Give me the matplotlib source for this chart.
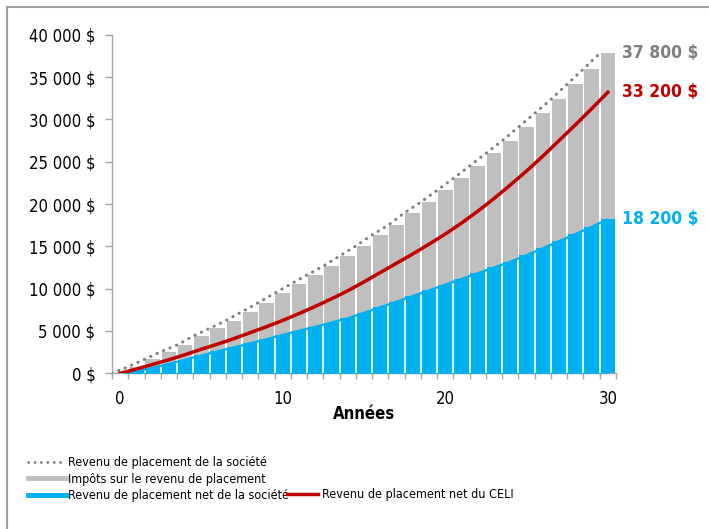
import numpy as np
import matplotlib.pyplot as plt
from matplotlib.lines import Line2D
from matplotlib.patches import Rectangle
from matplotlib.ticker import FuncFormatter

plt.rcParams['font.family'] = ['DejaVu Sans']
plt.rcParams['font.stretch'] = 'condensed'

years = list(range(31))
# revenu de placement de la société (total des barres)
revenu_societe = [0, 780, 1650, 2550, 3340, 4400, 5310, 6220, 7280, 8340,
                  9450, 10550, 11610, 12670, 13860, 15040, 16340, 17520, 18970, 20230,
                  21620, 23030, 24490, 25990, 27470, 29090, 30710, 32360, 34150, 35950,
                  37800]
# revenu de placement net de la société
revenu_net_societe = [0, 200, 650, 1130, 1610, 2110, 2600, 3060, 3540, 4030,
                      4550, 5030, 5500, 6000, 6500, 7150, 7800, 8460, 9130, 9800,
                      10480, 11150, 11830, 12500, 13180, 13970, 14780, 15620, 16450, 17300,
                      18200]
# revenu de placement net du CELI
revenu_net_celi = [0, 500, 1050, 1600, 2200, 2850, 3450, 4100, 4800, 5500,
                   6250, 7050, 7900, 8800, 9750, 10800, 11900, 13000, 14100, 15250,
                   16450, 17750, 19150, 20650, 22250, 23900, 25650, 27500, 29350, 31250,
                   33200]

labels = ["Revenu de placement de la société",
          "Impôts sur le revenu de placement",
          "Revenu de placement net de la société",
          "Revenu de placement net du CELI"]

GRAY = "#BFBFBF"
BLUE = "#00B0F0"
RED = "#C00000"
DOT = "#808080"
AXIS = "#A6A6A6"

x = np.array(years)
total = np.array(revenu_societe, dtype=float)
net = np.array(revenu_net_societe, dtype=float)
celi = np.array(revenu_net_celi, dtype=float)
impots = total - net

fig = plt.figure(figsize=(7.09, 5.29), dpi=100)
ax = fig.add_axes([112 / 709, 1 - 373.3 / 529, 504 / 709, 338.6 / 529])

bar_w = 0.9
ax.bar(x, net, width=bar_w, color=BLUE, zorder=2)
ax.bar(x, impots, bottom=net, width=bar_w, color=GRAY, zorder=2)
ax.fill_between(x, 0, net, color=BLUE, lw=0, zorder=3)
# white gaps between the bars, also through the blue area
ax.vlines(x[:-1] + 0.5, 0, (net[:-1] + net[1:]) / 2, color="white", lw=1.2, zorder=4)
ax.plot(x, net, color=BLUE, lw=1.6, zorder=5, solid_capstyle="butt")
ax.plot(x - 0.5, total, color=DOT, lw=2.2, linestyle=(0, (0.1, 2.2)),
        dash_capstyle="round", zorder=5)
ax.plot(x, celi, color=RED, lw=2.5, zorder=6)

ax.set_xlim(-0.5, 30.5)
ax.set_ylim(0, 40000)
ax.set_xticks([0, 10, 20, 30])
ax.set_xticks(np.arange(-0.5, 31, 1), minor=True)
ax.set_yticks(np.arange(0, 40001, 5000))
ax.yaxis.set_major_formatter(FuncFormatter(lambda v, p: f"{int(v):,} $".replace(",", " ")))

for s in ["top", "right"]:
    ax.spines[s].set_visible(False)
for s in ["left", "bottom"]:
    ax.spines[s].set_color(AXIS)
    ax.spines[s].set_linewidth(1.0)

ax.tick_params(axis="x", which="major", length=0, pad=12, labelsize=12)
ax.tick_params(axis="x", which="minor", length=4, color=AXIS, width=1.0)
ax.tick_params(axis="y", length=5, color=AXIS, width=1.0, pad=7, labelsize=12)
ax.set_xlabel("Années", fontsize=12, fontweight="bold", labelpad=-2)

# end labels
ax.text(30.85, total[-1], "37 800 $", color="#7F7F7F", fontsize=12.5,
        fontweight="bold", va="center", ha="left", clip_on=False)
ax.text(30.85, celi[-1], "33 200 $", color=RED, fontsize=12.5,
        fontweight="bold", va="center", ha="left", clip_on=False)
ax.text(30.85, net[-1], "18 200 $", color=BLUE, fontsize=12.5,
        fontweight="bold", va="center", ha="left", clip_on=False)

# legend
h_dot = Line2D([], [], color=DOT, lw=2.0, linestyle=(0, (0.1, 2.2)), dash_capstyle="round")
h_gray = Line2D([], [], color=GRAY, lw=3.5)
h_blue = Line2D([], [], color=BLUE, lw=3.5)
h_red = Line2D([], [], color=RED, lw=2.5)

fig.legend([h_dot, h_gray, h_blue], labels[:3], loc="upper left",
           bbox_to_anchor=(28 / 709, 1 - 456 / 529), frameon=False, fontsize=9,
           borderpad=0, borderaxespad=0, labelspacing=0.3, handlelength=3.0,
           handletextpad=0.16)
fig.legend([h_red], labels[3:], loc="center left",
           bbox_to_anchor=(287 / 709, 1 - 494.5 / 529), frameon=False, fontsize=9,
           borderpad=0, borderaxespad=0, handlelength=2.5, handletextpad=0.3)

# outer frame
fig.patches.append(Rectangle((7 / 709, -0.1), 1.2, 1.1 - 7 / 529, transform=fig.transFigure,
                             fill=False, edgecolor="#A0A0A0", lw=1.5))

fig.savefig("out.png", dpi=100)
